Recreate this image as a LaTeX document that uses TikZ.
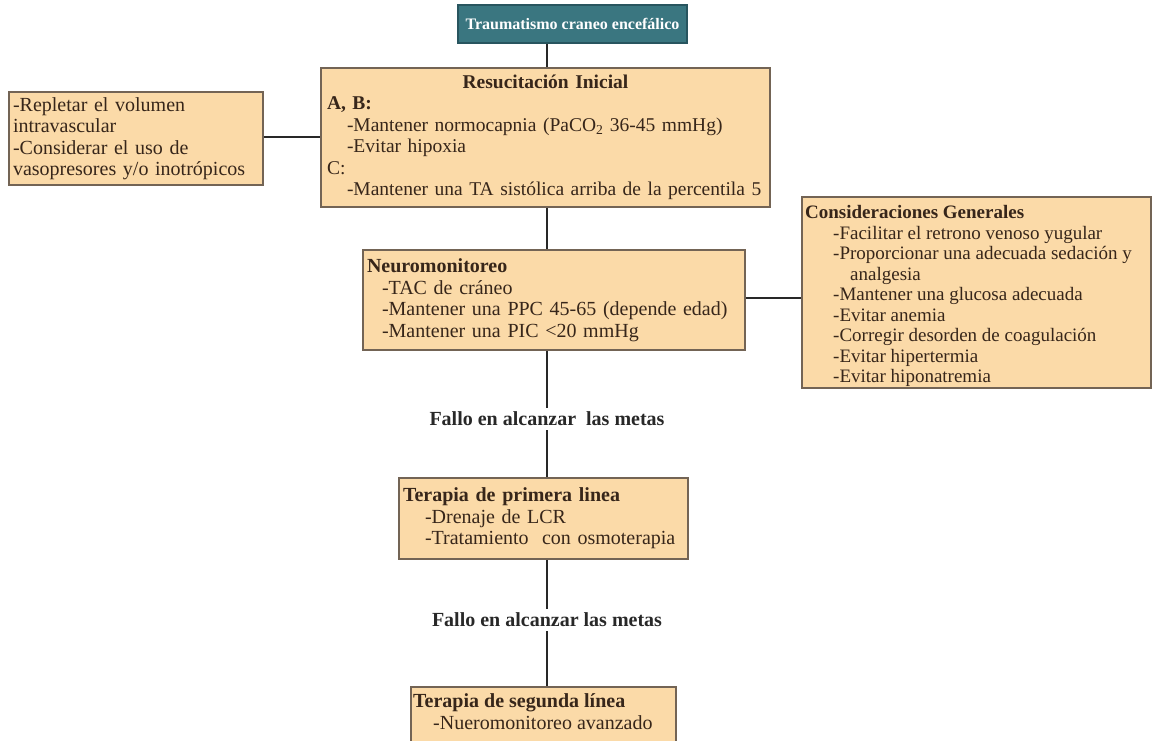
\documentclass[tikz,border=0pt]{standalone}
\usepackage{fontspec}
\setmainfont{Liberation Serif}
\definecolor{peach}{RGB}{251,218,168}
\definecolor{boxline}{RGB}{115,100,85}
\definecolor{txtbrown}{RGB}{55,38,26}
\definecolor{teal}{RGB}{58,118,128}
\definecolor{tealline}{RGB}{40,85,95}
\definecolor{conn}{RGB}{40,40,40}
\tikzset{
  pbox/.style={draw=boxline, line width=1.5pt, fill=peach, text=txtbrown, align=left,
    inner xsep=4pt, inner ysep=0pt, font=\fontsize{20}{21.5}\selectfont},
  ptxt/.style={text=txtbrown, align=left, inner sep=0pt, anchor=north west},
  titlebox/.style={draw=tealline, line width=1.2pt, fill=teal, text=white,
    font=\fontsize{16}{18}\selectfont\bfseries, minimum width=229pt, minimum height=38pt},
  lbl/.style={text=conn, font=\fontsize{20}{22}\selectfont\bfseries, inner sep=4pt},
  conline/.style={draw=conn, line width=1.5pt}
}
\begin{document}
\begin{tikzpicture}[x=1pt,y=-1pt]
\useasboundingbox (0,0) rectangle (1154,740);
\clip (0,0) rectangle (1154,740);
\fill[white] (0,0) rectangle (1154,740);

\node[titlebox] (title) at (572.5,24) {Traumatismo craneo encefálico};

\node[pbox, font=\fontsize{19.5}{21.5}\selectfont, minimum width=449pt, minimum height=139pt, text width=441pt, inner xsep=4pt] (res) at (545.5,137.5)
{\makebox[441pt][c]{\textbf{Resucitación Inicial}}\\
\hspace*{2pt}\textbf{A, B:}\\
\hspace*{22pt}-Mantener normocapnia (PaCO\textsubscript{2} 36-45 mmHg)\\
\hspace*{22pt}-Evitar hipoxia\\
\hspace*{2pt}C:\\
\hspace*{22pt}-Mantener una TA sistólica arriba de la percentila 5};

\node[pbox, minimum width=254pt, minimum height=93pt, text width=246pt] (lbox) at (136,138.5)
{-Repletar el volumen\\
intravascular\\
-Considerar el uso de\\
vasopresores y/o inotrópicos};

\node[pbox, minimum width=382pt, minimum height=100pt, text width=374pt] (neu) at (554,300)
{\textbf{Neuromonitoreo}\\
\hspace*{15pt}-TAC de cráneo\\
\hspace*{15pt}-Mantener una PPC 45-65 (depende edad)\\
\hspace*{15pt}-Mantener una PIC <20 mmHg};

\node[pbox, minimum width=349pt, minimum height=191pt] (cons) at (976.5,292.5) {};
\node[ptxt, font=\fontsize{19}{20.5}\selectfont] (constext) at (805,205.5)
{\textbf{Consideraciones Generales}\\
\hspace*{28pt}-Facilitar el retrono venoso yugular\\
\hspace*{28pt}-Proporcionar una adecuada sedación y\\
\hspace*{45pt}analgesia\\
\hspace*{28pt}-Mantener una glucosa adecuada\\
\hspace*{28pt}-Evitar anemia\\
\hspace*{28pt}-Corregir desorden de coagulación\\
\hspace*{28pt}-Evitar hipertermia\\
\hspace*{28pt}-Evitar hiponatremia};

\node[lbl] (f1) at (547,419) {Fallo en alcanzar\ \ las metas};

\node[pbox, minimum width=289pt, minimum height=81pt, text width=281pt] (p1) at (543.5,518.5)
{\textbf{Terapia de primera linea}\\
\hspace*{22pt}-Drenaje de LCR\\
\hspace*{22pt}-Tratamiento\ \ con osmoterapia};

\node[lbl] (f2) at (547,620) {Fallo en alcanzar las metas};

\node[pbox, minimum width=265pt, minimum height=70pt, anchor=north west] (p2) at (410,686) {};
\node[ptxt, font=\fontsize{20}{22}\selectfont] (p2text) at (413,693.5)
{\textbf{Terapia de segunda línea}\\
\hspace*{20pt}-Nueromonitoreo avanzado};

\coordinate (spine) at (547,0);
\draw[conline] (title.south -| spine) -- (res.north -| spine);
\draw[conline] (res.south -| spine) -- (neu.north -| spine);
\draw[conline] (neu.south -| spine) -- (f1.north -| spine);
\draw[conline] (f1.south -| spine) -- (p1.north -| spine);
\draw[conline] (p1.south -| spine) -- (f2.north -| spine);
\draw[conline] (f2.south -| spine) -- (p2.north -| spine);
\draw[conline] ([yshift=1.5pt]lbox.east) -- ([yshift=1.5pt]lbox.east -| res.west);
\draw[conline] ([yshift=2pt]neu.east) -- ([yshift=2pt]neu.east -| cons.west);
\end{tikzpicture}
\end{document}
